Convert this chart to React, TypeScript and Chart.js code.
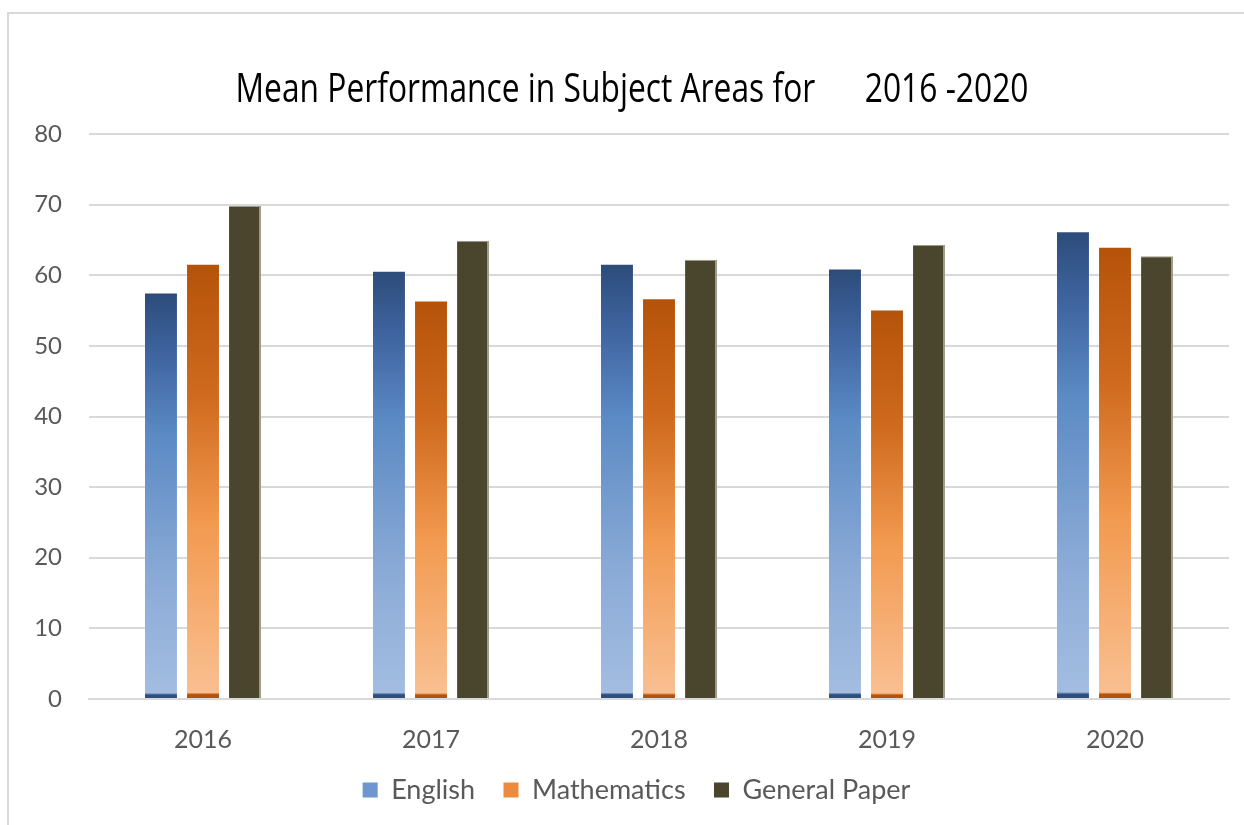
import React, { useEffect, useRef } from "react";
import { Chart, registerables } from "chart.js";

Chart.register(...registerables);

const categories = ["2016", "2017", "2018", "2019", "2020"];
const english = [57.4, 60.5, 61.5, 60.8, 66.1];
const mathematics = [61.5, 56.3, 56.6, 55.0, 63.9];
const generalPaper = [69.8, 64.9, 62.2, 64.3, 62.7];
const yTicks = [0, 10, 20, 30, 40, 50, 60, 70, 80];
const seriesNames = ["English", "Mathematics", "General Paper"];
const titleText = "Mean Performance in Subject Areas for      2016 -2020";

const englishStops: [number, string][] = [
  [0, "#2C4C7A"],
  [0.15, "#3F64A0"],
  [0.35, "#5B8AC4"],
  [0.7, "#8AAAD6"],
  [0.985, "#A3BDE1"],
  [0.99, "#2E4F7E"],
  [1, "#2E4F7E"],
];
const mathStops: [number, string][] = [
  [0, "#B5530A"],
  [0.3, "#CF6A1E"],
  [0.6, "#F29A50"],
  [0.985, "#F9BF91"],
  [0.99, "#B5530A"],
  [1, "#B5530A"],
];

function gradientFor(stops: [number, string][], fallback: string) {
  return (ctx: any) => {
    const chart = ctx.chart;
    if (ctx.type !== "data" || !chart.chartArea) return fallback;
    const y = chart.scales.y;
    const top = y.getPixelForValue(ctx.raw);
    const base = y.getPixelForValue(0);
    const g = chart.ctx.createLinearGradient(0, top, 0, base);
    stops.forEach(([o, c]) => g.addColorStop(o, c));
    return g;
  };
}

const condensedTitle = {
  id: "condensedTitle",
  afterDraw(chart: any) {
    const c = chart.ctx;
    c.save();
    c.font = "41px 'Open Sans'";
    c.fillStyle = "#000000";
    c.textAlign = "center";
    c.textBaseline = "middle";
    const w = c.measureText(titleText).width;
    const sx = 793 / w;
    c.translate(632, 90);
    c.scale(sx, 1);
    c.fillText(titleText, 0, 0);
    c.restore();
  },
};

const legendShift = {
  id: "legendShift",
  afterLayout(chart: any) {
    if (chart.legend) {
      chart.legend.left += 17;
      chart.legend.right += 17;
    }
  },
};

export default function App() {
  const ref = useRef<HTMLCanvasElement>(null);
  useEffect(() => {
    if (!ref.current) return;
    const legendColors = ["#6F96CE", "#EE8A3C", "#4A462D"];
    const chart = new Chart(ref.current, {
      type: "bar",
      data: {
        labels: categories,
        datasets: [
          {
            label: seriesNames[0],
            data: english,
            backgroundColor: gradientFor(englishStops, legendColors[0]),
            categoryPercentage: 0.553,
            barPercentage: 0.76,
          },
          {
            label: seriesNames[1],
            data: mathematics,
            backgroundColor: gradientFor(mathStops, legendColors[1]),
            categoryPercentage: 0.553,
            barPercentage: 0.76,
          },
          {
            label: seriesNames[2],
            data: generalPaper,
            backgroundColor: legendColors[2],
            borderColor: "#9E9C88",
            borderWidth: { top: 1, right: 2, left: 0, bottom: 0 },
            borderSkipped: "bottom",
            categoryPercentage: 0.553,
            barPercentage: 0.76,
          },
        ],
      },
      options: {
        animation: false,
        responsive: false,
        maintainAspectRatio: false,
        layout: { padding: { top: 134, left: 10, right: 15, bottom: 11.5 } },
        plugins: {
          tooltip: { enabled: false },
          title: { display: false },
          legend: {
            position: "bottom",
            labels: {
              color: "#595959",
              font: { family: "Lato, 'Open Sans'", size: 27 },
              boxWidth: 15,
              boxHeight: 15,
              padding: 21.5,
              generateLabels: () =>
                seriesNames.map((name, i) => ({
                  text: i < 2 ? name + " " : name,
                  fillStyle: legendColors[i],
                  strokeStyle: legendColors[i],
                  lineWidth: 0,
                  fontColor: "#595959",
                  datasetIndex: i,
                })) as any,
            },
          },
        },
        scales: {
          x: {
            grid: { display: false, drawTicks: false },
            border: { display: true, color: "#D9D9D9", width: 2 },
            ticks: { color: "#595959", font: { family: "Lato, 'Open Sans'", size: 25 }, padding: 26 },
            afterFit: (axis: any) => {
              axis.height = 56;
            },
          },
          y: {
            min: 0,
            max: 80,
            afterBuildTicks: (axis: any) => {
              axis.ticks = yTicks.map((v) => ({ value: v }));
            },
            afterFit: (axis: any) => {
              axis.width = 79;
            },
            grid: { color: "#D9D9D9", lineWidth: 2, drawTicks: false },
            border: { display: false },
            ticks: { color: "#595959", font: { family: "Lato, 'Open Sans'", size: 24 }, padding: 27 },
          },
        },
      },
      plugins: [condensedTitle, legendShift],
    });
    return () => chart.destroy();
  }, []);
  return (
    <div style={{ position: "absolute", left: 0, top: 0, width: 1244, height: 825, background: "#fff" }}>
      <div
        style={{
          position: "absolute",
          left: 7,
          top: 12,
          width: 1244,
          height: 825,
          borderLeft: "2px solid #D9D9D9",
          borderTop: "2px solid #D9D9D9",
        }}
      />
      <canvas ref={ref} width={1244} height={825} style={{ position: "absolute", left: 0, top: 0 }} />
    </div>
  );
}
